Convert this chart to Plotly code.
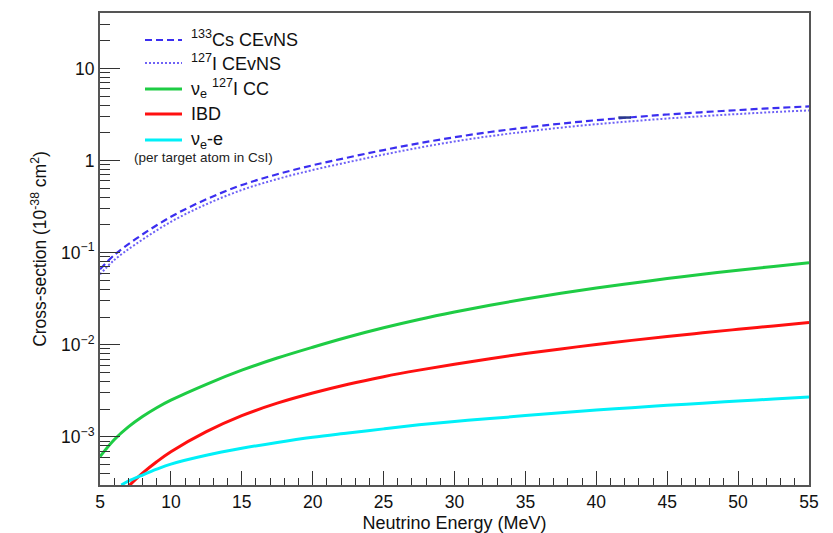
import plotly.graph_objects as go

# ---- data ----
energy_cevns = [5, 6, 7.5, 10, 12.5, 15, 17.5, 20, 22.5, 25, 27.5, 30, 32.5, 35, 37.5, 40, 42.5, 45, 47.5, 50, 52.5, 55]
cs_cevns = [0.066, 0.094, 0.140, 0.245, 0.380, 0.542, 0.710, 0.889, 1.08, 1.30, 1.54, 1.79, 2.04, 2.28, 2.515, 2.74, 2.95, 3.16, 3.35, 3.53, 3.71, 3.87]
i_cevns = [0.058, 0.083, 0.123, 0.216, 0.335, 0.479, 0.629, 0.789, 0.961, 1.16, 1.38, 1.61, 1.84, 2.06, 2.275, 2.48, 2.67, 2.86, 3.03, 3.20, 3.36, 3.50]

energy_cc = [5, 6, 7, 8, 9, 10, 12.5, 15, 17.5, 20, 22.5, 25, 27.5, 30, 32.5, 35, 37.5, 40, 42.5, 45, 47.5, 50, 52.5, 55]
i_cc = [6.1e-4, 9.3e-4, 1.28e-3, 1.66e-3, 2.07e-3, 2.50e-3, 3.72e-3, 5.29e-3, 7.17e-3, 9.4e-3, 1.213e-2, 1.527e-2, 1.879e-2, 2.266e-2, 2.69e-2, 3.14e-2, 3.62e-2, 4.13e-2, 4.66e-2, 5.23e-2, 5.83e-2, 6.44e-2, 7.09e-2, 7.75e-2]

energy_ibd = [7, 8, 9, 10, 12.5, 15, 17.5, 20, 22.5, 25, 27.5, 30, 32.5, 35, 37.5, 40, 42.5, 45, 47.5, 50, 52.5, 55]
ibd = [2.9e-4, 4.03e-4, 5.36e-4, 6.88e-4, 1.137e-3, 1.697e-3, 2.32e-3, 2.99e-3, 3.73e-3, 4.50e-3, 5.30e-3, 6.15e-3, 7.06e-3, 8.02e-3, 9.01e-3, 1.006e-2, 1.115e-2, 1.228e-2, 1.348e-2, 1.471e-2, 1.60e-2, 1.74e-2]

energy_nue = [6.5, 7, 8, 9, 10, 12.5, 15, 17.5, 20, 22.5, 25, 27.5, 30, 32.5, 35, 37.5, 40, 42.5, 45, 47.5, 50, 52.5, 55]
nue_e = [3.0e-4, 3.3e-4, 3.85e-4, 4.45e-4, 5.05e-4, 6.3e-4, 7.5e-4, 8.7e-4, 9.9e-4, 1.1e-3, 1.22e-3, 1.35e-3, 1.47e-3, 1.58e-3, 1.70e-3, 1.83e-3, 1.95e-3, 2.07e-3, 2.20e-3, 2.32e-3, 2.45e-3, 2.57e-3, 2.70e-3]

# small stray mark visible on the Cs curve in the reference
stray_e = [42.0]
stray_val = [2.93]

x_ticks = [5, 10, 15, 20, 25, 30, 35, 40, 45, 50, 55]
y_tickvals = [1e-3, 1e-2, 1e-1, 1, 10]
y_ticktext = ["10<sup>\u22123</sup>", "10<sup>\u22122</sup>", "10<sup>\u22121</sup>", "1", "10"]

series_names = ["<sup>133</sup>Cs CEvNS", "<sup>127</sup>I CEvNS", "\u03bd<sub>e</sub> <sup>127</sup>I CC", "IBD", "\u03bd<sub>e</sub>-e"]
series_colors = ["#3b2ef0", "#6f62f6", "#1ecc44", "#ff1010", "#00f0f8"]
series_dash = ["7px,4px", "2px,2px", "solid", "solid", "solid"]
series_width = [2.2, 2, 3, 3, 3]
note_text = "(per target atom in CsI)"

FONT = "Liberation Sans, Arial, sans-serif"

# plot-area geometry (pixels) used to place legend items in paper coords
L, R, T, B = 100, 809, 13, 485
def px(x):
    return (x - L) / (R - L)
def py(y):
    return 1 - (y - T) / (B - T)

fig = go.Figure()
data = [(energy_cevns, cs_cevns), (energy_cevns, i_cevns), (energy_cc, i_cc), (energy_ibd, ibd), (energy_nue, nue_e)]
for (xs, ys), nm, col, dsh, w in zip(data, series_names, series_colors, series_dash, series_width):
    fig.add_trace(go.Scatter(x=xs, y=ys, mode="lines", line_shape="spline", name=nm,
                             showlegend=False, line=dict(color=col, width=w, dash=dsh)))
fig.add_trace(go.Scatter(x=stray_e, y=stray_val, mode="markers", showlegend=False, hoverinfo="skip",
                         marker=dict(symbol="line-ew", size=9, line=dict(color="#2a3a8a", width=2.5))))

# manual ROOT-style legend
legend_y = [40, 63, 89, 114, 140]
text_shift = [-1, -1, -1, 0, 0]
for yy, sh, nm, col, dsh, w in zip(legend_y, text_shift, series_names, series_colors, series_dash, series_width):
    fig.add_shape(type="line", xref="paper", yref="paper", x0=px(145), x1=px(182), y0=py(yy), y1=py(yy),
                  line=dict(color=col, width=w, dash=dsh))
    fig.add_annotation(text=nm, xref="paper", yref="paper", x=px(189), y=py(yy + sh),
                       xanchor="left", yanchor="middle", showarrow=False,
                       font=dict(size=18, color="#111", family=FONT))

fig.add_annotation(text=note_text, xref="paper", yref="paper",
                   x=px(132), y=py(157), xanchor="left", yanchor="middle",
                   showarrow=False, font=dict(size=13.5, color="#222", family=FONT))

fig.update_layout(
    width=833, height=533,
    margin=dict(l=L, r=833 - R, t=T, b=533 - B, autoexpand=False),
    paper_bgcolor="white", plot_bgcolor="white",
    font=dict(family=FONT, color="#111", size=17),
    showlegend=False,
    xaxis=dict(range=[5, 55], tickvals=x_ticks, ticks="inside", ticklen=14, tickwidth=1.2,
               tickcolor="#333", showline=True, mirror=True, linecolor="#555", linewidth=2,
               showgrid=False, zeroline=False, automargin=False,
               minor=dict(dtick=1, ticks="inside", ticklen=7, tickcolor="#333", showgrid=False),
               tickfont=dict(size=17.5, family=FONT),
               title=dict(text="Neutrino Energy (MeV)", font=dict(size=18, family=FONT), standoff=6)),
    yaxis=dict(type="log", range=[-3.523, 1.602], tickvals=y_tickvals, ticktext=y_ticktext,
               ticks="inside", ticklen=20, tickwidth=1.2, tickcolor="#333",
               showline=True, mirror=True, linecolor="#555", linewidth=2,
               showgrid=False, zeroline=False, automargin=False,
               minor=dict(dtick="D1", ticks="inside", ticklen=10, tickcolor="#333", showgrid=False),
               tickfont=dict(size=17.5, family=FONT),
               title=dict(text="Cross-section (10<sup>-38</sup> cm<sup>2</sup>)",
                          font=dict(size=17.5, family=FONT), standoff=10)),
)

fig.write_html("out.html")
